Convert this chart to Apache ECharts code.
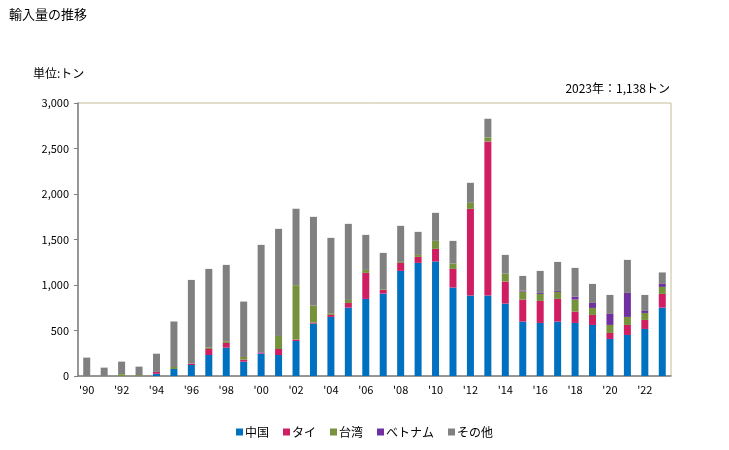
<!DOCTYPE html>
<html><head><meta charset="utf-8">
<script src="https://cdn.jsdelivr.net/npm/echarts@6/dist/echarts.min.js"></script>
<style>html,body{margin:0;padding:0;background:#fff}#c{width:729px;height:450px}</style>
</head><body><div id="c"></div>
<script>
const years = ["'90","'91","'92","'93","'94","'95","'96","'97","'98","'99","'00","'01","'02","'03","'04","'05","'06","'07","'08","'09","'10","'11","'12","'13","'14","'15","'16","'17","'18","'19","'20","'21","'22","'23"];
const china   = [0,0,0,0,25,77,121,231,312,158,246,231,385,576,649,752,847,906,1155,1243,1258,972,884,884,796,598,583,598,583,561,407,451,517,752];
const thai    = [0,0,0,0,20,0,15,66,51,22,10,66,15,11,22,51,286,40,88,66,139,205,953,1694,242,242,242,249,125,110,66,110,99,150];
const taiwan  = [0,0,20,10,0,22,0,15,18,29,0,143,598,187,18,33,33,7,11,22,88,59,66,44,88,88,77,77,132,77,88,88,77,77];
const vietnam = [0,0,0,0,0,0,0,0,0,0,5,0,0,0,0,0,0,0,0,0,0,0,0,0,0,11,11,11,33,55,121,264,22,33];
const others  = [202,92,138,93,200,500,920,865,840,609,1180,1177,840,975,829,836,385,400,396,253,308,249,220,205,205,161,242,319,315,209,209,363,176,126];
const yTicks = [0,500,1000,1500,2000,2500,3000];

const font = "'Noto Sans CJK JP', sans-serif";
const names = ['中国','タイ','台湾','ベトナム','その他'];
const colors = ['#0070c0','#d01e62','#76933c','#7030a0','#808080'];
const data = [china, thai, taiwan, vietnam, others];
const chart = echarts.init(document.getElementById('c'));
chart.setOption({
  animation:false,
  textStyle:{fontFamily:font},
  title:[
    {text:'輸入量の推移',left:4,top:3,textStyle:{fontSize:13,fontWeight:'normal',color:'#000',fontFamily:font}},
    {text:'単位:トン',left:28,top:62,textStyle:{fontSize:12,fontWeight:'normal',color:'#000',fontFamily:font}},
    {text:'2023年：1,138トン',right:54,top:77,textStyle:{fontSize:12,fontWeight:'normal',color:'#000',fontFamily:font}}
  ],
  legend:{bottom:7,left:'center',itemWidth:7,itemHeight:7,itemGap:14,icon:'rect',
    textStyle:{fontSize:12,color:'#000',fontFamily:font,padding:[0,0,0,-3]},data:names},
  grid:{left:78,right:58,top:103,bottom:74,show:true,borderColor:'#c4bc96',borderWidth:1,backgroundColor:'transparent'},
  xAxis:{type:'category',data:years,
    axisLine:{lineStyle:{color:'#808080',width:1.5}},axisTick:{show:false},
    axisLabel:{interval:1,color:'#000',fontSize:11,margin:8,fontFamily:font}},
  yAxis:{type:'value',min:0,max:3000,interval:500,
    axisLine:{show:true,lineStyle:{color:'#808080',width:1.5}},
    axisTick:{show:true,length:4,inside:false,lineStyle:{color:'#808080'}},
    splitLine:{show:false},
    axisLabel:{color:'#000',fontSize:11,margin:9,fontFamily:font,
      formatter:v=>yTicks.includes(v)?v.toLocaleString('en-US'):''}},
  series:names.map((n,i)=>({name:n,type:'bar',stack:'t',data:data[i],barWidth:7,
    itemStyle:{color:colors[i]}}))
});
</script></body></html>
